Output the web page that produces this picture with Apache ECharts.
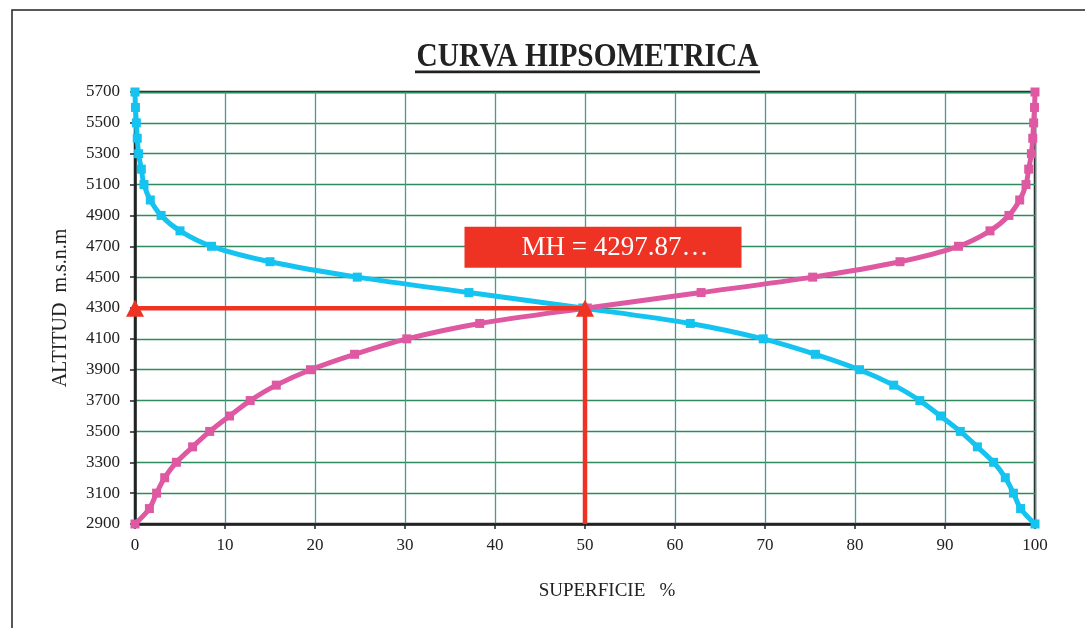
<!DOCTYPE html>
<html>
<head>
<meta charset="utf-8">
<script src="https://cdn.jsdelivr.net/npm/echarts@6/dist/echarts.min.js"></script>
<style>html,body{margin:0;padding:0;background:#fff;}#c{width:1085px;height:628px;}</style>
</head>
<body>
<div id="c"></div>
<script>
// Altitudes (m.s.n.m)
var altitudes = [2900,3000,3100,3200,3300,3400,3500,3600,3700,3800,3900,4000,4100,4200,4300,4400,4500,4600,4700,4800,4900,5000,5100,5200,5300,5400,5500,5600,5700];
// % area above altitude (blue curve)
var areaAbove = [100,98.4,97.6,96.7,95.4,93.6,91.7,89.5,87.2,84.3,80.5,75.6,69.8,61.7,49.75,37.1,24.7,15.0,8.5,5.0,2.9,1.7,1.0,0.7,0.4,0.25,0.15,0.05,0];
// % area below altitude (pink curve)
var areaBelow = [0,1.6,2.4,3.3,4.6,6.4,8.3,10.5,12.8,15.7,19.5,24.4,30.2,38.3,50.25,62.9,75.3,85.0,91.5,95.0,97.1,98.3,99.0,99.3,99.6,99.75,99.85,99.95,100];
// Mean height annotation
var meanHeight = 4297.87;
var meanPct = 50;
var labelText = 'MH = 4297.87\u2026';
var titleText = 'CURVA HIPSOMETRICA';
var xName = 'SUPERFICIE   %';
var yName = 'ALTITUD  m.s.n.m';
var xTicks = {min:0, max:100, step:10};
var yTicks = {min:2900, max:5700, step:200};

var blueData = altitudes.map(function(a,i){return [areaAbove[i], a];});
var pinkData = altitudes.map(function(a,i){return [areaBelow[i], a];});

var chart = echarts.init(document.getElementById('c'), null, {renderer:'canvas'});
var serif = '"Liberation Serif","Times New Roman",serif';
chart.setOption({
  backgroundColor:'#fff',
  animation:false,
  grid:{left:135, right:50, top:92, bottom:104, show:true, borderColor:'#222', borderWidth:2.5},
  graphic:[
    {type:'rect', shape:{x:12,y:10,width:1200,height:700}, style:{fill:'none', stroke:'#222', lineWidth:1.5}, silent:true},
    {type:'text', x:587.5, y:57, scaleX:0.89, originX:0, originY:0,
     style:{text:titleText, font:'bold 33px '+serif, fill:'#222', textAlign:'center', textVerticalAlign:'middle'}},
    {type:'rect', shape:{x:415,y:70.5,width:345,height:2.7}, style:{fill:'#222'}}
  ],
  xAxis:{
    type:'value', min:xTicks.min, max:xTicks.max, interval:xTicks.step,
    name:xName, nameLocation:'middle', nameGap:58,
    nameTextStyle:{fontFamily:serif, fontSize:19, color:'#222', padding:[0,0,0,44]},
    axisLine:{show:true, onZero:false, lineStyle:{color:'#222', width:2.5}},
    axisTick:{show:true, length:5, lineStyle:{color:'#222', width:1.5}},
    axisLabel:{fontFamily:serif, fontSize:17, color:'#222', margin:13},
    splitLine:{show:true, lineStyle:{color:'#3E9F98', width:1.3}}
  },
  yAxis:{
    type:'value', min:yTicks.min, max:yTicks.max, interval:yTicks.step,
    name:yName, nameLocation:'middle', nameGap:64,
    nameTextStyle:{fontFamily:serif, fontSize:20, color:'#222'},
    axisLine:{show:true, onZero:false, lineStyle:{color:'#222', width:2.5}},
    axisTick:{show:true, length:5, lineStyle:{color:'#222', width:1.5}},
    axisLabel:{fontFamily:serif, fontSize:17, color:'#222', margin:15,
               formatter:function(v){return String(v);}},
    splitLine:{show:true, lineStyle:{color:'#2E8B5E', width:1.3}}
  },
  series:[
    {type:'line', name:'blue', data:blueData, smooth:0.3, symbol:'rect', symbolSize:9,
     lineStyle:{color:'#14C3EF', width:5}, itemStyle:{color:'#14C3EF'}, z:3},
    {type:'line', name:'pink', data:pinkData, smooth:0.3, symbol:'rect', symbolSize:9,
     lineStyle:{color:'#DE58A2', width:5}, itemStyle:{color:'#DE58A2'}, z:3},
    {type:'line', name:'mh',
     data:[
       {value:[xTicks.min, meanHeight], symbol:'triangle', symbolSize:[18,17]},
       {value:[meanPct, meanHeight], symbol:'triangle', symbolSize:[18,17]},
       {value:[meanPct, yTicks.min], symbol:'none'}
     ],
     lineStyle:{color:'#EE3224', width:4.5}, itemStyle:{color:'#EE3224'}, z:4,
     markPoint:{
       symbol:'rect', symbolSize:[277,41], silent:true,
       itemStyle:{color:'#EE3224', borderRadius:2},
       label:{show:true, formatter:labelText, color:'#fff', fontFamily:serif, fontSize:27, offset:[12,1]},
       data:[{coord:[52.0, 4693]}]
     }
    }
  ]
});
</script>
</body>
</html>
